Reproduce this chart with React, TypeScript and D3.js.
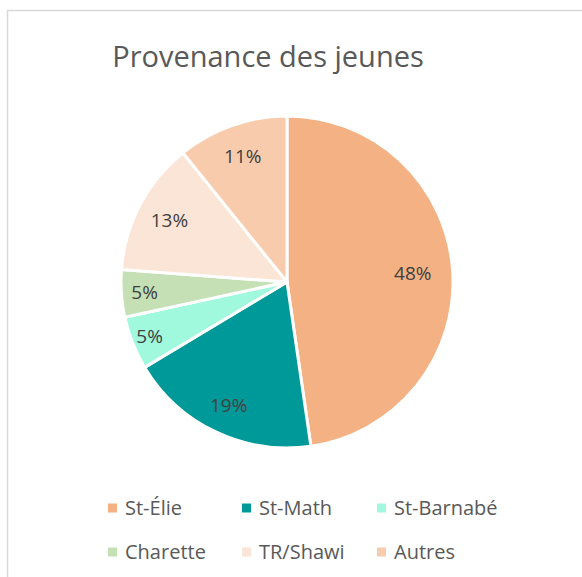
import React from "react";
import * as d3 from "d3";

const categories = ["St-Élie", "St-Math", "St-Barnabé", "Charette", "TR/Shawi", "Autres"];
const values = [47.7, 18.7, 5.2, 4.6, 13.0, 10.8];
const colors = ["#F4B183", "#009999", "#A0F9DC", "#C5E0B4", "#FBE5D6", "#F8CBAD"];
const labelRadiusFrac = [0.76, 0.82, 0.89, 0.86, 0.8, 0.8];

const W = 582;
const H = 577;
const cx = 287;
const cy = 282;
const R = 166;

export default function App() {
  const total = d3.sum(values);
  const pie = d3.pie<number>().sort(null).value((d) => d)(values);
  const arc = d3.arc<d3.PieArcDatum<number>>().innerRadius(0).outerRadius(R);
  const font = "Open Sans, sans-serif";

  const legendRows = [categories.slice(0, 3), categories.slice(3)];
  const colX = [108, 242, 377];
  const rowY = [508, 552];

  return (
    <svg width={W} height={H} style={{ position: "absolute", left: 0, top: 0 }}>
      <rect x={0} y={0} width={W} height={H} fill="#fff" />
      <rect x={7.5} y={10.5} width={700} height={700} fill="#fff" stroke="#D9D9D9" strokeWidth={1.5} />
      <text x={268} y={67} textAnchor="middle" fontFamily={font} fontSize={29} fill="#595959">
        Provenance des jeunes
      </text>
      <g transform={`translate(${cx},${cy})`}>
        {pie.map((p, i) => (
          <path key={i} d={arc(p) || ""} fill={colors[i]} stroke="#fff" strokeWidth={3} strokeLinejoin="round" />
        ))}
        {pie.map((p, i) => {
          const a = (p.startAngle + p.endAngle) / 2;
          const r = R * labelRadiusFrac[i];
          const x = Math.sin(a) * r;
          const y = -Math.cos(a) * r;
          return (
            <text key={i} x={x} y={y} dy="0.35em" textAnchor="middle" fontFamily={font} fontSize={19} fill="#404040">
              {d3.format(".0f")((values[i] / total) * 100)}%
            </text>
          );
        })}
      </g>
      {legendRows.map((row, ri) =>
        row.map((c, ci) => {
          const idx = ri * 3 + ci;
          return (
            <g key={c} transform={`translate(${colX[ci]},${rowY[ri]})`}>
              <rect x={0} y={-4.5} width={9} height={9} fill={colors[idx]} />
              <text x={17} y={0} dy="0.35em" fontFamily={font} fontSize={20} fill="#595959">
                {c}
              </text>
            </g>
          );
        })
      )}
    </svg>
  );
}
